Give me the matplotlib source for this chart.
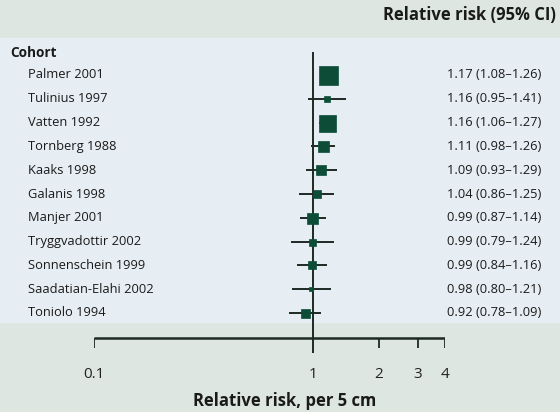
import matplotlib
matplotlib.use("Agg")
import matplotlib.pyplot as plt
from matplotlib.patches import Rectangle

studies = ["Palmer 2001", "Tulinius 1997", "Vatten 1992", "Tornberg 1988", "Kaaks 1998",
           "Galanis 1998", "Manjer 2001", "Tryggvadottir 2002", "Sonnenschein 1999",
           "Saadatian-Elahi 2002", "Toniolo 1994"]
rr = [1.17, 1.16, 1.16, 1.11, 1.09, 1.04, 0.99, 0.99, 0.99, 0.98, 0.92]
lo = [1.08, 0.95, 1.06, 0.98, 0.93, 0.86, 0.87, 0.79, 0.84, 0.80, 0.78]
hi = [1.26, 1.41, 1.27, 1.26, 1.29, 1.25, 1.14, 1.24, 1.16, 1.21, 1.09]
weights = [19, 6, 17, 11, 10, 8, 11, 7, 8, 5, 9]  # marker size (px) ~ study weight
xticks = [0.1, 1, 2, 3, 4]
xticklabels = ["0.1", "1", "2", "3", "4"]

FONT = "Open Sans"
W, H = 560, 412
fig = plt.figure(figsize=(W / 100, H / 100), dpi=100)
fig.patch.set_facecolor("#dde6e0")
fig.patches.append(Rectangle((0, (H - 323) / H), 1, (323 - 38) / H, transform=fig.transFigure,
                             facecolor="#e6eef3", edgecolor="none", zorder=-5))

# axes: pixel 94..445 horizontally, 52..353 vertically
ax = fig.add_axes([94 / W, (H - 353) / H, (445 - 94) / W, (353 - 52) / H])
ax.set_zorder(5)
ax.set_xscale("log")
ax.set_xlim(0.1, 4)
row0, step = 75, 23.8
ax.set_ylim((353 - row0) / step, -(row0 - 52) / step)
ax.axis("off")
ax.patch.set_alpha(0)

dark = "#1d2a24"
green = "#0d4d38"
axis_y = (338 - row0) / step
tick_y = (348 - row0) / step

ax.axvline(1, color=dark, lw=1.4, zorder=1)
ax.hlines(axis_y, 0.1, 4, color=dark, lw=1.8)
for t, lab in zip(xticks, xticklabels):
    if t != 1:
        ax.vlines(t, axis_y, tick_y, color=dark, lw=1.3)
    ax.text(t, (375 - row0) / step, lab, ha="center", va="center",
            fontsize=11, family=FONT, color="#222", clip_on=False)

for i, (s, r, l, h, w) in enumerate(zip(studies, rr, lo, hi, weights)):
    ax.hlines(i, l, h, color=dark, lw=1.4, zorder=2)
    ax.plot(r, i, marker="s", ms=w * 0.72, color=green, mec=green, mew=0.5, zorder=3)
    fig.text(28 / W, 1 - (row0 + i * step) / H, s, ha="left", va="center",
             fontsize=9.3, family=FONT, color="#1a1a1a")
    fig.text(447 / W, 1 - (row0 + i * step) / H, f"{r:.2f} ({l:.2f}\u2013{h:.2f})",
             ha="left", va="center", fontsize=9.3, family=FONT, color="#1a1a1a")

fig.text(10 / W, 1 - 53 / H, "Cohort", ha="left", va="center", fontsize=9.8,
         family=FONT, weight="bold", color="#1a1a1a")
fig.text(556 / W, 1 - 15 / H, "Relative risk (95% CI)", ha="right", va="center",
         fontsize=12, family=FONT, weight="bold", color="#1a1a1a")
fig.text(285 / W, 1 - 401 / H, "Relative risk, per 5 cm", ha="center", va="center",
         fontsize=12, family=FONT, weight="bold", color="#1a1a1a")

fig.savefig("out.png", dpi=100, facecolor=fig.get_facecolor())
